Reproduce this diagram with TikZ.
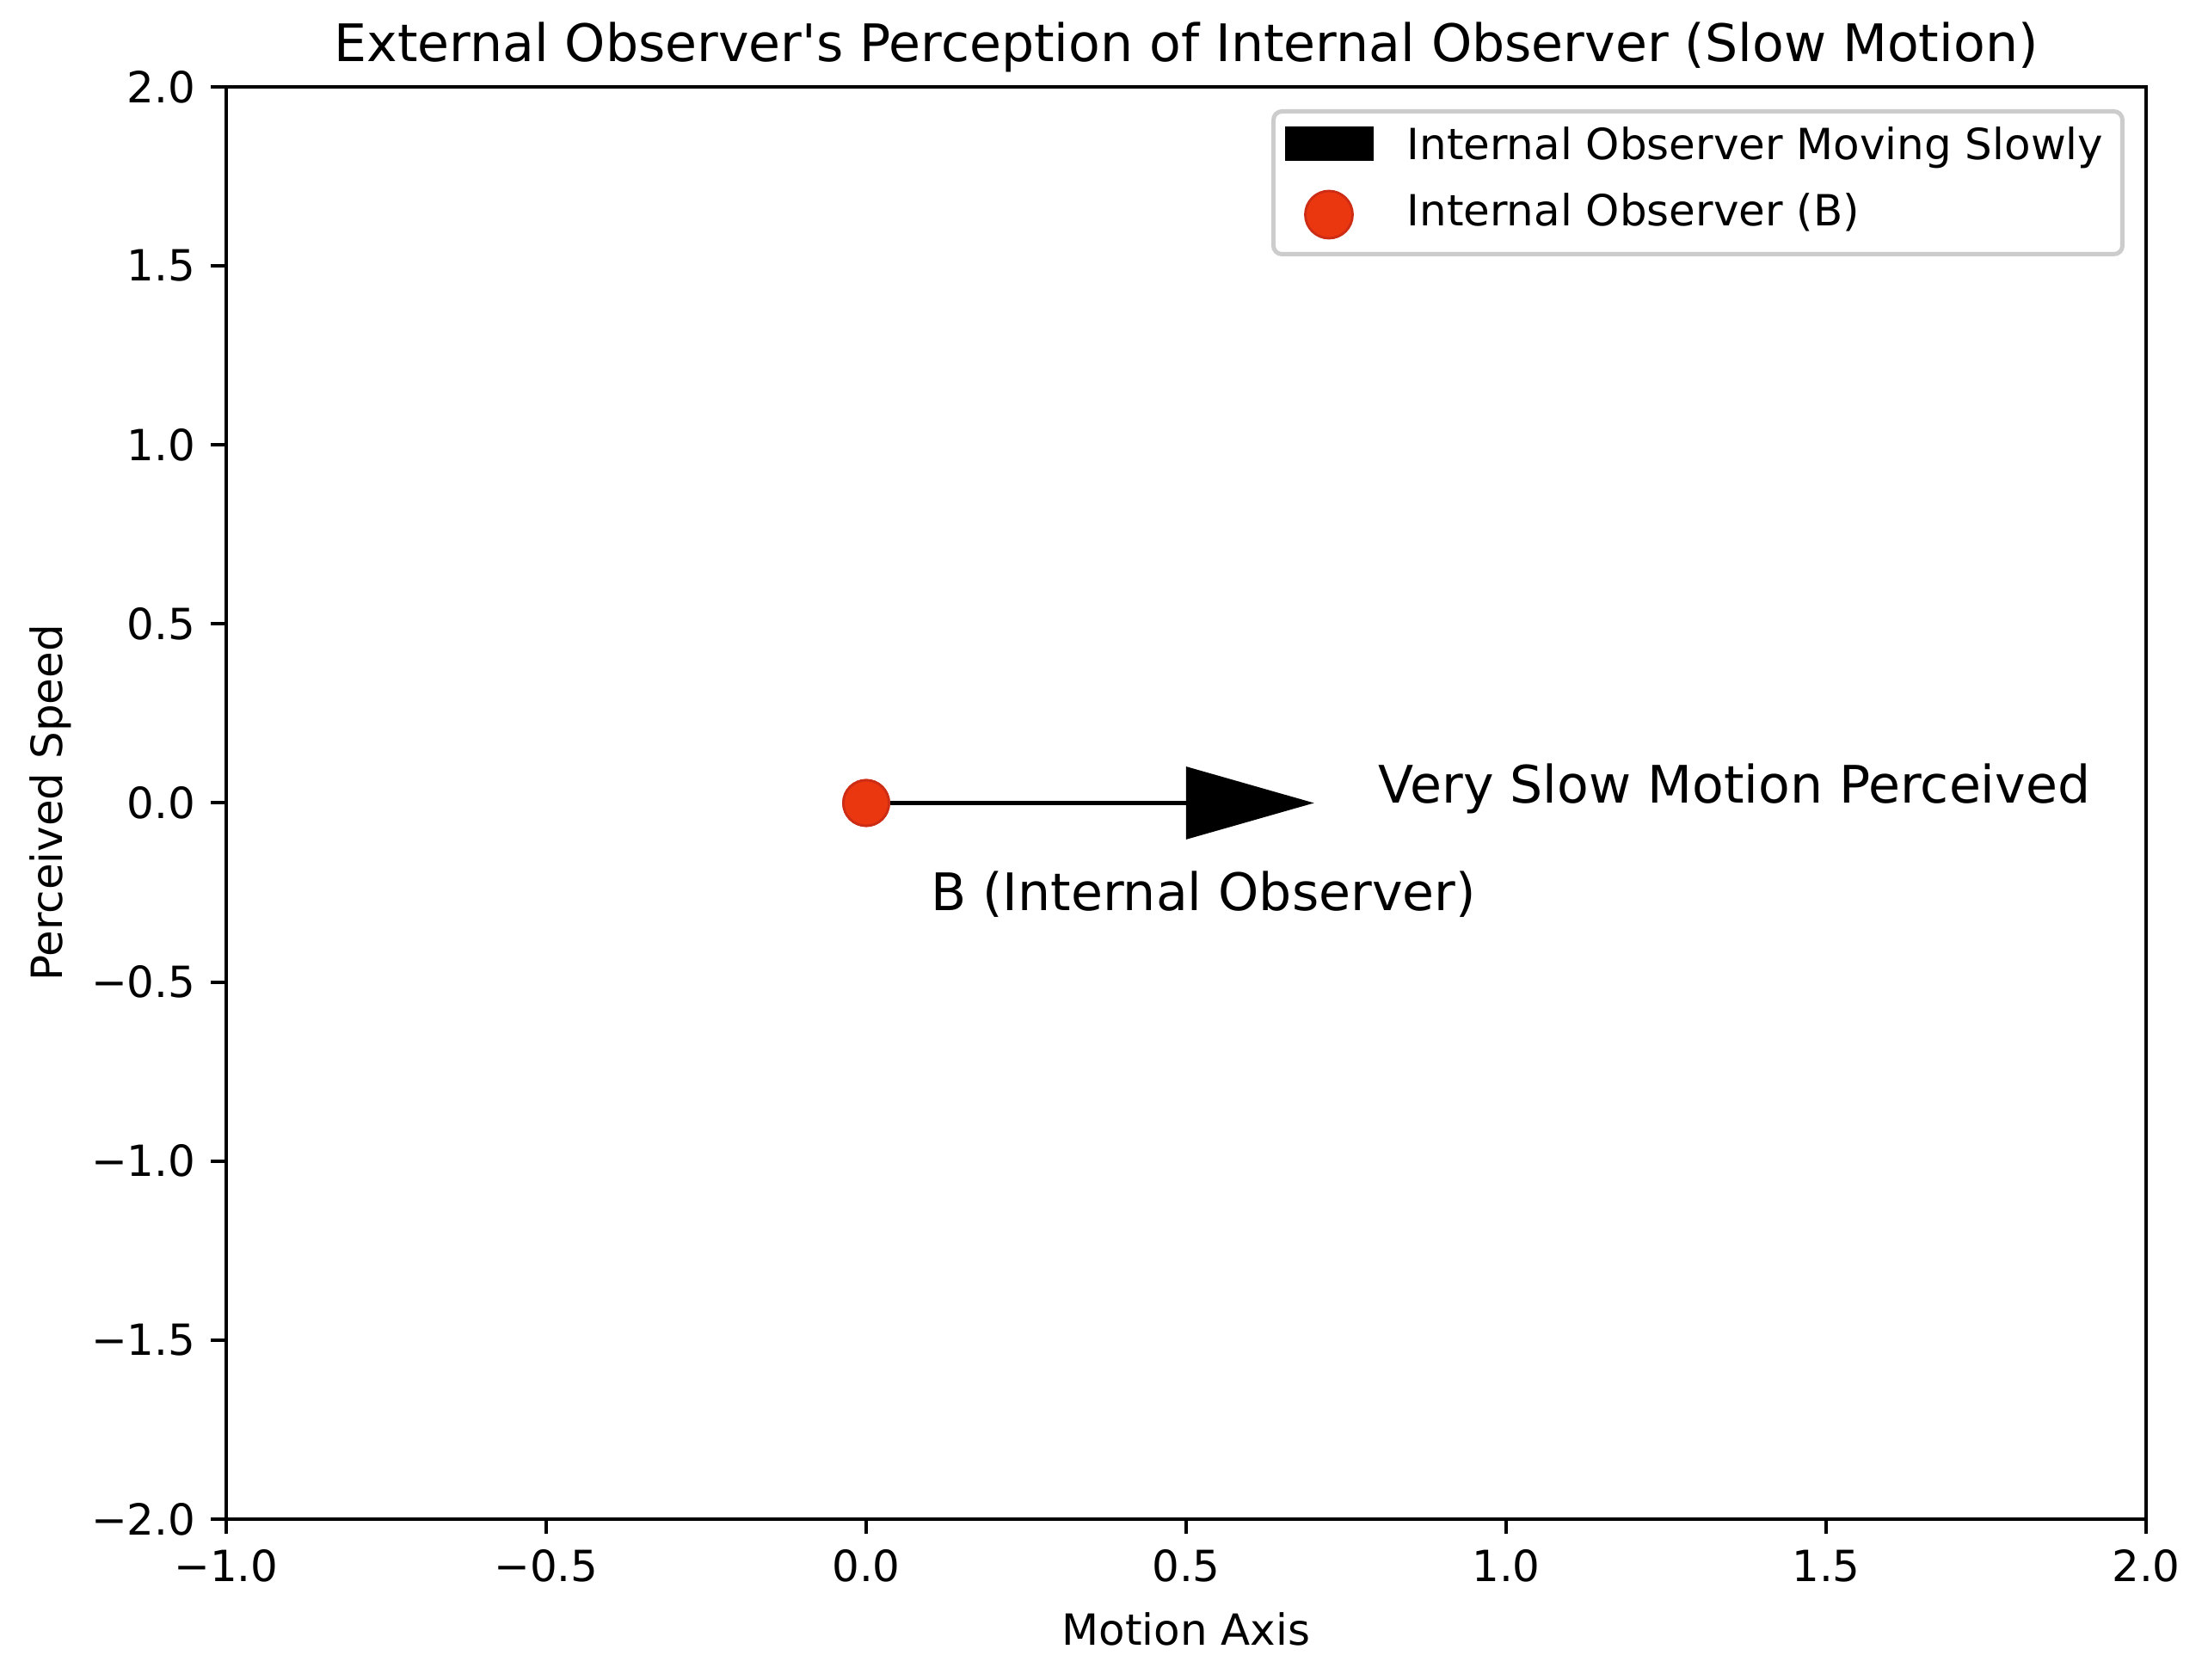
\documentclass[tikz,border=0pt]{standalone}
\usepackage{fontspec}
\setmainfont{DejaVu Sans}
\newfontfamily\plainfont{DejaVu Sans}
\usepackage{xcolor}
\usepackage{tikz}
\usetikzlibrary{arrows.meta, positioning}
\definecolor{obsred}{RGB}{235,55,15}
\definecolor{obsedge}{RGB}{205,45,20}
\newcommand{\smallsz}{\fontsize{14.2}{17}\selectfont}
\newcommand{\bigsz}{\fontsize{17.1}{20.5}\selectfont}
\tikzset{
    spine/.style={draw=black, line width=1.14pt},
    tickmark/.style={draw=black, line width=1.14pt},
    ticklab/.style={font=\smallsz, inner sep=0pt},
    axlab/.style={font=\smallsz, inner sep=0pt, anchor=base},
    lab/.style={font=\bigsz, inner sep=0pt, anchor=base west},
    legbox/.style={draw=black!20, fill=white, line width=1.42pt, rounded corners=2.8pt,
                   inner sep=0pt, minimum width=9.87cm, minimum height=1.66cm},
    legtxt/.style={font=\smallsz, inner sep=0pt, anchor=base west},
    obsdot/.style={circle, fill=obsred, draw=obsedge, line width=0.8pt, inner sep=0pt, minimum size=0.53cm},
    mover/.style={-{Triangle[length=1.488cm, width=0.8325cm]}, line width=1.6pt, black},
}

\begin{document}
\begin{tikzpicture}[x=7.44cm, y=4.1625cm]
    \useasboundingbox (-1.3535,-2.4492) rectangle (2.0874,2.2426);
    \draw[spine] (-1,-2) rectangle (2,2);
    \foreach \v/\t in {-1/−1.0, -0.5/−0.5, 0/0.0, 0.5/0.5, 1/1.0, 1.5/1.5, 2/2.0} {
        \draw[tickmark] (\v,-2) -- ++(0,-0.175cm);
        \node[ticklab, anchor=north] (xt\v) at ([yshift=-0.35cm]\v,-2) {\t};
    }
    \foreach \v/\t in {-2/−2.0, -1.5/−1.5, -1/−1.0, -0.5/−0.5, 0/0.0, 0.5/0.5, 1/1.0, 1.5/1.5, 2/2.0} {
        \draw[tickmark] (-1,\v) -- ++(-0.175cm,0);
        \node[ticklab, anchor=east] (yt\v) at ([xshift=-0.35cm]-1,\v) {\t};
    }
    \node[axlab, font=\bigsz] (title) at (0.5,2.072) {External Observer{\plainfont'}s Perception of Internal Observer (Slow Motion)};
    \node[axlab] (xlab) at (0.5,-2.351) {Motion Axis};
    \node[axlab, rotate=90] (ylab) at (-1.2567,0) {Perceived Speed};

    \node[obsdot] (bdot) at (0,0) {};
    \coordinate (tip) at (0.7,0);
    \draw[mover] (bdot.east) -- (tip);
    \node[obsdot] at (bdot) {};
    \node[lab] (slow) at (0.8,0) {Very Slow Motion Perceived};
    \node[lab] (blab) at (0.1,-0.3) {B (Internal Observer)};

    \node[legbox, anchor=north east] (legend) at (1.9664,1.9375) {};
    \node[fill=black, inner sep=0pt, minimum width=1.03cm, minimum height=0.40cm]
        (legarrow) at ([shift={(0.68cm,-0.40cm)}]legend.north west) {};
    \node[obsdot, minimum size=0.55cm] (legdot) at ([shift={(0.67cm,-1.225cm)}]legend.north west) {};
    \node[legtxt] (legtxt1) at ([shift={(1.57cm,-0.59cm)}]legend.north west) {Internal Observer Moving Slowly};
    \node[legtxt] (legtxt2) at ([shift={(1.57cm,-1.36cm)}]legend.north west) {Internal Observer (B)};
\end{tikzpicture}
\end{document}
